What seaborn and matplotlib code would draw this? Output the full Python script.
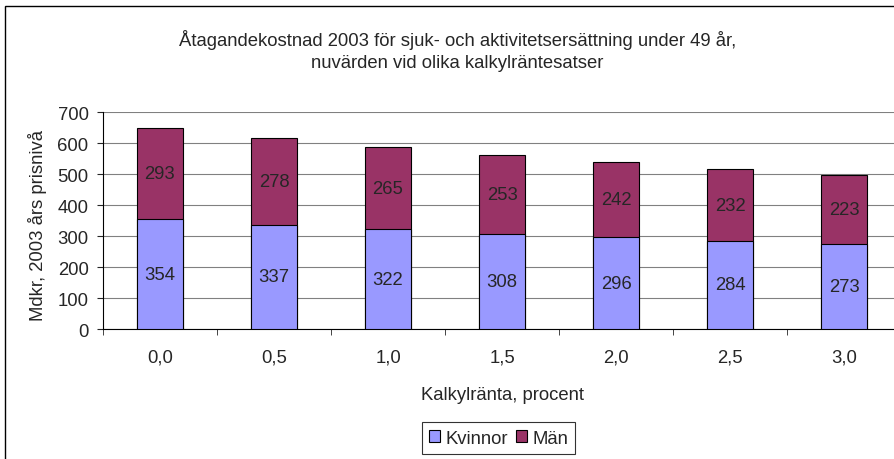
import matplotlib
matplotlib.use('Agg')
import matplotlib.pyplot as plt
from matplotlib.patches import Rectangle, Patch
from matplotlib.ticker import FixedLocator
import seaborn as sns
import pandas as pd

# Data
rates = ['0,0', '0,5', '1,0', '1,5', '2,0', '2,5', '3,0']
kvinnor = [354, 337, 322, 308, 296, 284, 273]
man = [293, 278, 265, 253, 242, 232, 223]
yticks = [0, 100, 200, 300, 400, 500, 600, 700]

c_kv = '#9999FF'
c_man = '#993366'
fs = 13.3

sns.set_style('white')
plt.rcParams['font.family'] = ['Liberation Sans', 'DejaVu Sans']

df = pd.DataFrame({'rate': rates, 'Kvinnor': kvinnor, 'Män': man})
df['total'] = df['Kvinnor'] + df['Män']

fig = plt.figure(figsize=(8.95, 4.6), dpi=100)
ax = fig.add_axes([0.115, 0.2826, 0.892, 0.4717])

# outer chart frame
fig.patches.append(Rectangle((5 / 895, -0.1), 1.2, 1 - 7 / 460 + 0.1,
                             transform=fig.transFigure, fill=False,
                             edgecolor='black', linewidth=1.0))

# stacked bars: total (Män on top) then Kvinnor over it
sns.barplot(data=df, x='rate', y='total', color=c_man, width=0.4,
            edgecolor='black', linewidth=0.8, saturation=1, ax=ax, zorder=3)
sns.barplot(data=df, x='rate', y='Kvinnor', color=c_kv, width=0.4,
            edgecolor='black', linewidth=0.8, saturation=1, ax=ax, zorder=4)

for i in range(len(rates)):
    ax.text(i, kvinnor[i] / 2, str(kvinnor[i]), ha='center', va='center',
            fontsize=fs, zorder=5)
    ax.text(i, kvinnor[i] + man[i] / 2, str(man[i]), ha='center',
            va='center', fontsize=fs, zorder=5)

ax.set_xlim(-0.5, len(rates) - 0.5)
ax.set_ylim(0, 700)
ax.set_yticks(yticks)
ax.set_yticklabels([str(v) for v in yticks], fontsize=fs)
ax.grid(axis='y', color='#808080', linewidth=0.8, zorder=0)
ax.set_axisbelow(True)

ax.tick_params(axis='x', which='major', length=0, pad=14, labelsize=fs)
ax.xaxis.set_minor_locator(FixedLocator([i + 0.5 for i in range(-1, len(rates))]))
ax.tick_params(axis='x', which='minor', length=4, direction='out', bottom=True)
ax.tick_params(axis='y', length=4.3, direction='out', left=True, pad=6)

for s in ['top', 'right']:
    ax.spines[s].set_visible(False)
for s in ['left', 'bottom']:
    ax.spines[s].set_color('black')
    ax.spines[s].set_linewidth(0.8)

ax.set_xlabel('Kalkylränta, procent', fontsize=fs, labelpad=15)
ax.set_ylabel('Mdkr, 2003 års prisnivå', fontsize=fs)
ax.yaxis.set_label_coords(-0.07, 0.48)

fig.text(0.511, 0.913, 'Åtagandekostnad 2003 för sjuk- och aktivitetsersättning under 49 år,',
         ha='center', va='center', fontsize=fs)
fig.text(0.511, 0.863, 'nuvärden vid olika kalkylräntesatser',
         ha='center', va='center', fontsize=fs)

handles = [Patch(facecolor=c_kv, edgecolor='black', linewidth=0.8, label='Kvinnor'),
           Patch(facecolor=c_man, edgecolor='black', linewidth=0.8, label='Män')]
leg = fig.legend(handles=handles, loc='center', bbox_to_anchor=(0.557, 0.045),
                 ncol=2, fontsize=fs, frameon=True, fancybox=False,
                 handlelength=0.6, handleheight=0.6, handletextpad=0.3,
                 columnspacing=0.4, borderpad=0.4)
leg.get_frame().set_edgecolor('black')
leg.get_frame().set_linewidth(0.8)

fig.savefig('out.png', dpi=100)
